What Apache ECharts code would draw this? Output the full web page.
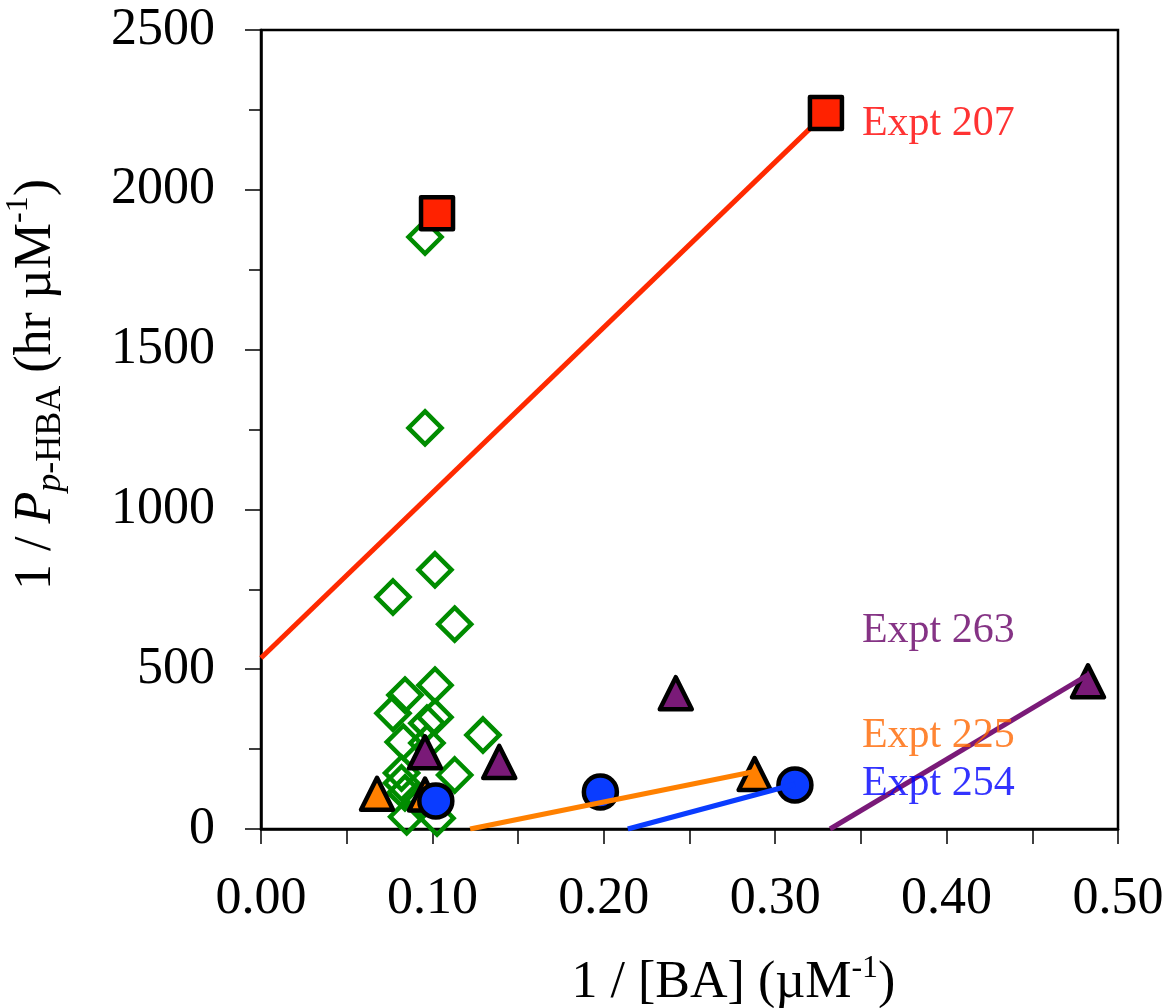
<!DOCTYPE html>
<html>
<head>
<meta charset="utf-8">
<script src="https://cdn.jsdelivr.net/npm/echarts@6/dist/echarts.min.js"></script>
<style>html,body{margin:0;padding:0;background:#fff}#c{width:1170px;height:1008px}</style>
</head>
<body>
<div id="c"></div>
<script>
// ---- data (x = 1/[BA] µM^-1, y = 1/P hr µM^-1) ----
const greenDiamonds = [
  [0.0957, 1852], [0.0957, 1255], [0.1015, 811], [0.077, 726], [0.113, 641],
  [0.1015, 450], [0.084, 419], [0.077, 362], [0.1015, 350], [0.0968, 331],
  [0.1295, 294], [0.083, 272], [0.0968, 269], [0.113, 169], [0.082, 175],
  [0.082, 144], [0.084, 113], [0.093, 82], [0.085, 38], [0.1027, 34]
];
const redSquares = [[0.1027, 1927], [0.3296, 2240]];
const orangeTriangles = [[0.0677, 110], [0.0957, 108], [0.288, 172]];
const purpleTriangles = [[0.0957, 240], [0.139, 210], [0.242, 425], [0.4825, 462]];
const blueCircles = [[0.102, 88], [0.198, 116], [0.3115, 138]];

const redLine = [[0.0, 535], [0.3296, 2240]];
const orangeLine = [[0.122, 0], [0.288, 180]];
const blueLine = [[0.214, 0], [0.3115, 140]];
const purpleLine = [[0.332, 0], [0.4825, 482]];

const exptLabels = ['Expt 207', 'Expt 263', 'Expt 225', 'Expt 254'];
const exptLabelPos = [[0.3506, 2205], [0.3506, 620], [0.3506, 290], [0.3506, 140]];
const exptLabelColors = ['#ff0000', '#660066', '#ff6600', '#0000ff'];

const xTicks = [0, 0.1, 0.2, 0.3, 0.4, 0.5];
const yTicks = [0, 500, 1000, 1500, 2000, 2500];

const FONT = "'Liberation Serif', 'Times New Roman', serif";
const chart = echarts.init(document.getElementById('c'), null, {renderer: 'canvas'});

const border = {borderColor: '#000', borderWidth: 4.5, borderJoin: 'round', opacity: 1};
function lineSeries(data, color) {
  return {type: 'line', data: data, symbol: 'none', z: 3, lineStyle: {color: color, width: 5, opacity: 1}, silent: true};
}
function markers(data, symbol, size, color, z) {
  return {type: 'scatter', data: data, symbol: symbol, symbolSize: size, z: z,
          itemStyle: Object.assign({color: color}, border)};
}

chart.setOption({
  animation: false,
  grid: {left: 261, top: 30, width: 857, height: 799, show: true, containLabel: false, outerBoundsMode: 'none',
         borderColor: '#000', borderWidth: 2.5, backgroundColor: '#fff'},
  xAxis: {
    type: 'value', min: 0, max: 0.5, interval: 0.1,
    name: '{a|1 / [BA] (µM}{sup|-1}{a|)}', nameLocation: 'middle', nameGap: 124,
    nameTextStyle: {padding: [0, 0, 0, 88], rich: {
      a: {fontFamily: FONT, fontSize: 52, color: '#000', lineHeight: 60},
      sup: {fontFamily: FONT, fontSize: 32, color: '#000', lineHeight: 60, verticalAlign: 'top'}
    }},
    axisLine: {lineStyle: {color: '#000', width: 2.5}},
    axisTick: {length: 15, lineStyle: {color: '#000', width: 1.5}},
    minorTick: {show: true, splitNumber: 2, length: 15, lineStyle: {color: '#000', width: 1.5}},
    splitLine: {show: false},
    axisLabel: {margin: 44, fontFamily: FONT, fontSize: 52, color: '#000', formatter: v => v.toFixed(2)}
  },
  yAxis: {
    type: 'value', min: 0, max: 2500, interval: 500,
    name: '{a|1 / }{i|P}{subi|p}{sub|-HBA}{a| (hr µM}{sup|-1}{a|)}',
    nameLocation: 'middle', nameRotate: 90, nameGap: 192,
    nameTextStyle: {padding: [0, 0, 0, 90], rich: {
      a: {fontFamily: FONT, fontSize: 52, color: '#000', lineHeight: 66},
      i: {fontFamily: FONT, fontSize: 52, color: '#000', fontStyle: 'italic', lineHeight: 66},
      subi: {fontFamily: FONT, fontSize: 36, color: '#000', fontStyle: 'italic', lineHeight: 32, verticalAlign: 'bottom'},
      sub: {fontFamily: FONT, fontSize: 36, color: '#000', lineHeight: 32, verticalAlign: 'bottom'},
      sup: {fontFamily: FONT, fontSize: 32, color: '#000', lineHeight: 32, verticalAlign: 'top'}
    }},
    axisLine: {lineStyle: {color: '#000', width: 2.5}},
    axisTick: {length: 16, lineStyle: {color: '#000', width: 1.5}},
    minorTick: {show: true, splitNumber: 2, length: 12, lineStyle: {color: '#000', width: 1.5}},
    splitLine: {show: false},
    axisLabel: {margin: 46, fontFamily: FONT, fontSize: 52, color: '#000', formatter: v => String(v)}
  },
  series: [
    {type: 'scatter', data: greenDiamonds, symbol: 'diamond', symbolSize: 33, z: 2,
     itemStyle: {color: 'rgba(0,0,0,0)', borderColor: '#008c00', borderWidth: 4.5, opacity: 1}},
    markers(orangeTriangles, 'triangle', 32, '#ff8000', 2),
    markers(purpleTriangles, 'triangle', 32, '#7a1a78', 2),
    markers(blueCircles, 'circle', 33, '#0a3cff', 2),
    lineSeries(redLine, '#ff2a00'),
    lineSeries(orangeLine, '#ff8000'),
    lineSeries(blueLine, '#0a3cff'),
    lineSeries(purpleLine, '#7a1a78'),
    markers(redSquares, 'rect', 32, '#ff2200', 4),
    {type: 'scatter', z: 5, symbolSize: 0, silent: true,
     data: exptLabels.map((t, i) => ({value: exptLabelPos[i], name: t,
       label: {show: true, position: 'right', distance: 0, formatter: t, color: exptLabelColors[i],
               fontFamily: FONT, fontSize: 42}}))}
  ]
});
</script>
</body>
</html>
